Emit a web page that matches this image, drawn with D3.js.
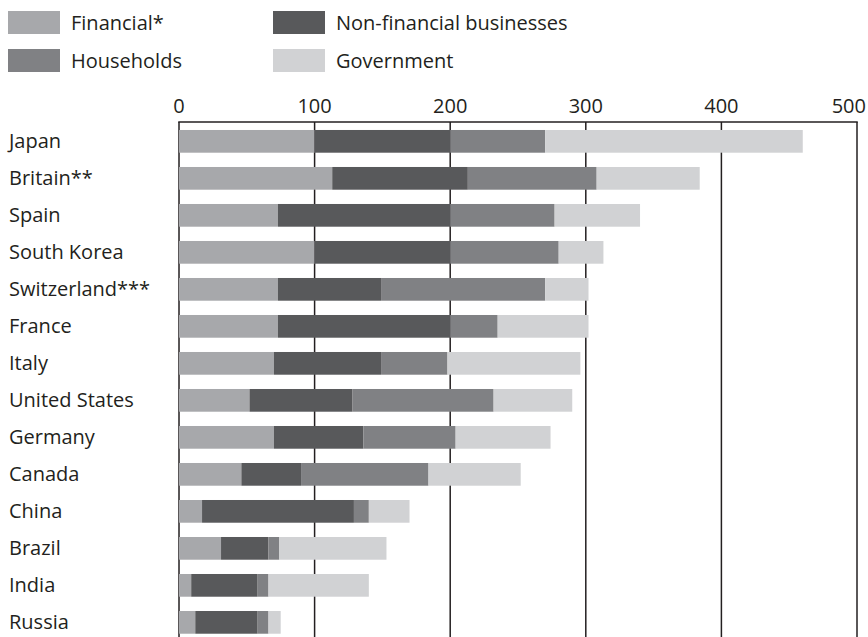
<!DOCTYPE html>
<html>

<head>
    <title>Debt by sector</title>
    <script src="https://d3js.org/d3.v7.min.js"></script>
    <style>
        body {
            margin: 0;
            background: #fff;
        }

        .chart text {
            font-family: "Open Sans", sans-serif;
            fill: #231f20;
        }
    </style>
</head>

<body>
    <div id="chart" class="chart"></div>

    <script>
        // countries, top to bottom
        const countries = ["Japan", "Britain**", "Spain", "South Korea", "Switzerland***", "France",
            "Italy", "United States", "Germany", "Canada", "China", "Brazil", "India", "Russia"];

        // values by sector, same order as countries
        const financial    = [100, 113, 73, 100, 73, 73, 70, 52, 70, 46, 17, 31, 9, 12];
        const nonFinancial = [100, 100, 127, 100, 76, 127, 79, 76, 66, 44, 112, 35, 49, 46];
        const households   = [70, 95, 77, 80, 121, 35, 49, 104, 68, 94, 11, 8, 8, 8];
        const government   = [190, 76, 63, 33, 32, 67, 98, 58, 70, 68, 30, 79, 74, 9];

        const sectors = ["Financial*", "Non-financial businesses", "Households", "Government"];
        const sectorColors = ["#a7a8ab", "#58595b", "#808184", "#d1d2d4"];
        const xTicks = [0, 100, 200, 300, 400, 500];

        const width = 868, height = 637;

        const rows = countries.map((c, i) => ({
            country: c,
            values: [financial[i], nonFinancial[i], households[i], government[i]]
        }));

        const svg = d3.select('#chart')
            .append('svg')
            .attr('width', width)
            .attr('height', height);

        const x = d3.scaleLinear()
            .domain([0, 500])
            .range([179, 857]);

        const y = d3.scaleBand()
            .domain(countries)
            .range([115.7, 648])
            .padding(0.386);

        const plotTop = 122;

        // grid lines and top border, drawn first so the bars sit on top
        const grid = svg.append('g').attr('class', 'grid');
        grid.selectAll('line')
            .data(xTicks)
            .enter().append('line')
            .attr('x1', d => x(d))
            .attr('x2', d => x(d))
            .attr('y1', plotTop)
            .attr('y2', height)
            .attr('stroke', '#231f20')
            .attr('stroke-width', 1.5);

        grid.append('line')
            .attr('x1', x(0) - 0.75)
            .attr('x2', x(500) + 0.75)
            .attr('y1', plotTop)
            .attr('y2', plotTop)
            .attr('stroke', '#231f20')
            .attr('stroke-width', 1.5);

        // legend: two columns, two rows
        const legendPos = [
            { x: 8, y: 11 },
            { x: 273, y: 11 },
            { x: 8, y: 49 },
            { x: 273, y: 49 }
        ];
        const legend = svg.append('g').attr('class', 'legend');
        sectors.forEach((s, i) => {
            const p = legendPos[i];
            legend.append('rect')
                .attr('x', p.x)
                .attr('y', p.y)
                .attr('width', 52)
                .attr('height', 23)
                .attr('fill', sectorColors[i]);
            legend.append('text')
                .attr('x', p.x + 63)
                .attr('y', p.y + 11.5)
                .attr('dy', '0.35em')
                .style('font-size', '20px')
                .text(s);
        });

        // stacked bars
        const stack = svg.append('g').attr('class', 'bars');
        rows.forEach(r => {
            let start = 0;
            r.values.forEach((v, i) => {
                stack.append('rect')
                    .attr('x', x(start))
                    .attr('y', y(r.country))
                    .attr('width', x(start + v) - x(start))
                    .attr('height', y.bandwidth())
                    .attr('fill', sectorColors[i]);
                start += v;
            });
        });

        // tick labels along the top (last one kept inside the frame)
        svg.append('g')
            .selectAll('text')
            .data(xTicks)
            .enter().append('text')
            .attr('x', d => d === 500 ? width - 2 : x(d))
            .attr('y', 113)
            .attr('text-anchor', d => d === 500 ? 'end' : 'middle')
            .style('font-size', '20px')
            .text(d => d);

        // country labels
        svg.append('g')
            .selectAll('text')
            .data(countries)
            .enter().append('text')
            .attr('x', 9)
            .attr('y', d => y(d) + y.bandwidth() / 2)
            .attr('dy', '0.35em')
            .style('font-size', '20px')
            .text(d => d);
    </script>
</body>

</html>
